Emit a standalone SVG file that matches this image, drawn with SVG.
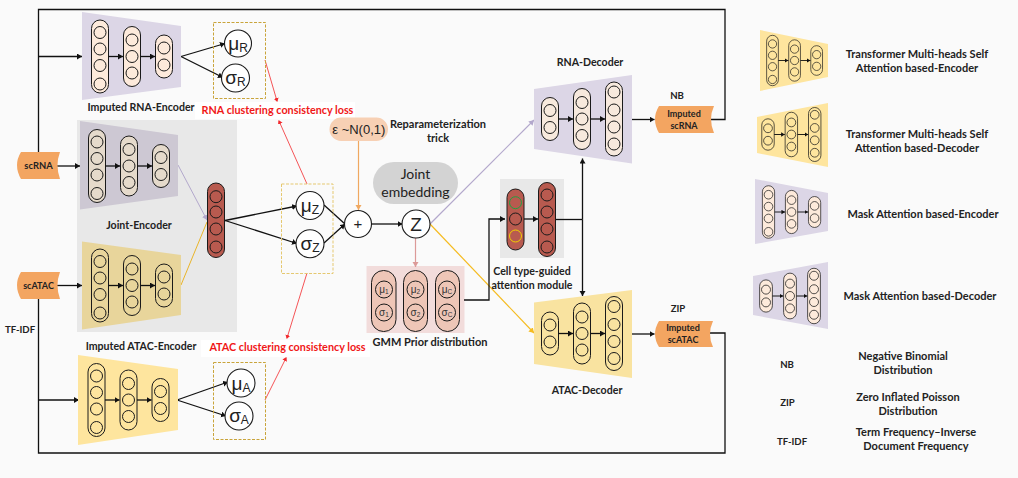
<svg xmlns="http://www.w3.org/2000/svg" xmlns:xlink="http://www.w3.org/1999/xlink" width="1018" height="478" viewBox="0 0 1018 478">
<style>
text{font-family:"Lato","Open Sans","Liberation Sans",sans-serif;font-weight:700;font-size:10.6px;fill:#222;text-anchor:middle}
.red{fill:#f01818;font-size:10.8px}
.lg{font-size:11px}
.cap{font-size:9.6px}
.sym{font-family:"Liberation Sans",sans-serif;font-weight:400;font-size:19px;fill:#222}
.sym tspan{font-size:12px}
.mini{font-family:"Liberation Sans",sans-serif;font-weight:400;font-size:10px;fill:#333}
.mini tspan{font-size:6.5px}
.pill{stroke:#1a1a1a;stroke-width:1}
.c{fill:none;stroke:#1a1a1a;stroke-width:1}
.node{fill:#fff;stroke:#1a1a1a;stroke-width:1.1}
.blk{fill:none;stroke:#111;stroke-width:1.3}
.inner{fill:none;stroke:#111;stroke-width:1.3}
.rl{fill:none;stroke:#f2282c;stroke-width:.8}
.dash{fill:none;stroke-width:1;stroke-dasharray:3 1.5}
</style>
<defs>
<marker id="a" markerUnits="userSpaceOnUse" markerWidth="7" markerHeight="7" refX="5" refY="3" orient="auto"><path d="M0 0L5 3L0 6Z" fill="#111"/></marker>
<marker id="ar" markerUnits="userSpaceOnUse" markerWidth="6" markerHeight="6" refX="3" refY="2.5" orient="auto"><path d="M0 0L4 2.5L0 5Z" fill="#f2282c"/></marker>
<marker id="al" markerUnits="userSpaceOnUse" markerWidth="7" markerHeight="7" refX="5" refY="3" orient="auto"><path d="M0 0L5 3L0 6Z" fill="#b3a8cc"/></marker>
<marker id="ay" markerUnits="userSpaceOnUse" markerWidth="7" markerHeight="7" refX="5" refY="3" orient="auto"><path d="M0 0L5 3L0 6Z" fill="#f5bb1f"/></marker>
<marker id="ao" markerUnits="userSpaceOnUse" markerWidth="7" markerHeight="7" refX="5" refY="3" orient="auto"><path d="M0 0L5 3L0 6Z" fill="#f0a860"/></marker>
<marker id="ap" markerUnits="userSpaceOnUse" markerWidth="7" markerHeight="7" refX="5" refY="3" orient="auto"><path d="M0 0L5 3L0 6Z" fill="#dc9a98"/></marker>
<g id="enc">
<rect class="pill" x="-8.5" y="-36.5" width="17" height="73" rx="8.5"/>
<rect class="pill" x="23.5" y="-30" width="17" height="60" rx="8.5"/>
<rect class="pill" x="55.5" y="-21.5" width="17" height="43" rx="8.5"/>
<circle class="c" cy="-24" r="6"/><circle class="c" cy="-7.5" r="6"/><circle class="c" cy="9" r="6"/><circle class="c" cy="27.5" r="6"/>
<circle class="c" cx="32" cy="-16.5" r="6"/><circle class="c" cx="32" r="6"/><circle class="c" cx="32" cy="16.5" r="6"/>
<circle class="c" cx="64" cy="-8.5" r="6"/><circle class="c" cx="64" cy="8.5" r="6"/>
<path class="inner" d="M8.5 0H23" marker-end="url(#a)"/><path class="inner" d="M40.5 0H55" marker-end="url(#a)"/>
</g>
<g id="dec">
<rect class="pill" x="-8.5" y="-21.5" width="17" height="43" rx="8.5"/>
<rect class="pill" x="23.5" y="-30.5" width="17" height="61" rx="8.5"/>
<rect class="pill" x="55.5" y="-37" width="17" height="74" rx="8.5"/>
<circle class="c" cy="-8.5" r="6"/><circle class="c" cy="8.5" r="6"/>
<circle class="c" cx="32" cy="-16.5" r="6"/><circle class="c" cx="32" r="6"/><circle class="c" cx="32" cy="16.5" r="6"/>
<circle class="c" cx="64" cy="-27" r="6"/><circle class="c" cx="64" cy="-9" r="6"/><circle class="c" cx="64" cy="8" r="6"/><circle class="c" cx="64" cy="25" r="6"/>
<path class="inner" d="M8.5 0H23" marker-end="url(#a)"/><path class="inner" d="M40.5 0H55" marker-end="url(#a)"/>
</g>
</defs>
<rect width="1018" height="478" fill="#fafafa"/>
<rect x="77" y="120" width="160" height="212" fill="#e8e8e8"/>
<rect x="500" y="179" width="64" height="79" fill="#e8e8e8"/>
<rect x="366.5" y="266" width="98" height="67" fill="#f2dcdb"/>

<g id="connectors">
<path class="blk" d="M38.5 152V9.5H725V119.5H711"/>
<path class="blk" d="M38.5 56.5H82" marker-end="url(#a)"/>
<path class="blk" d="M57 166H80" marker-end="url(#a)"/>
<path class="blk" d="M57 285.5H82" marker-end="url(#a)"/>
<path class="blk" d="M38.5 299V453H725V333H710"/>
<path class="blk" d="M38.5 400H79" marker-end="url(#a)"/>
<path class="blk" d="M181 56.5L225 43.5" marker-end="url(#a)"/>
<path class="blk" d="M181 56.5L223 77.5" marker-end="url(#a)"/>
<path class="blk" d="M177 400L228 382" marker-end="url(#a)"/>
<path class="blk" d="M177 400L226 416" marker-end="url(#a)"/>
<path fill="none" stroke="#b3a8cc" stroke-width="1" d="M178 165L207 220" marker-end="url(#al)"/>
<path fill="none" stroke="#e9b429" stroke-width="1" d="M181 285L207 222"/>
<path class="blk" d="M225 220.5L297 206" marker-end="url(#a)"/>
<path class="blk" d="M225 220.5L297 243.5" marker-end="url(#a)"/>
<path class="blk" d="M324 205L345 224"/><path class="blk" d="M324 243L345 224" marker-end="url(#a)"/>
<path class="blk" d="M372 224H402.5" marker-end="url(#a)"/>
<path fill="none" stroke="#f0a860" stroke-width="1.2" d="M358.5 141V210" marker-end="url(#ao)"/>
<path fill="none" stroke="#dc9a98" stroke-width="1.2" d="M415.5 238V267" marker-end="url(#ap)"/>
<path fill="none" stroke="#b3a8cc" stroke-width="1.2" d="M430 224L534 120" marker-end="url(#al)"/>
<path fill="none" stroke="#f5bb1f" stroke-width="1.2" d="M430 224L534 333" marker-end="url(#ay)"/>
<path class="blk" d="M464 300H489V219H505" marker-end="url(#a)"/>
<path class="blk" d="M555 219.5H582.5"/>
<path class="blk" d="M582.5 219.5V158.5" marker-end="url(#a)"/>
<path class="blk" d="M582.5 219.5V296" marker-end="url(#a)"/>
<path class="blk" d="M631 119.5H654.5" marker-end="url(#a)"/>
<path class="blk" d="M631 334H654.5" marker-end="url(#a)"/>
<path class="rl" d="M265 60L277 101" marker-end="url(#ar)"/>
<path class="rl" d="M307 184L279 121" marker-end="url(#ar)"/>
<path class="rl" d="M307 273L287 338" marker-end="url(#ar)"/>
<path class="rl" d="M265 400L286 358" marker-end="url(#ar)"/>
</g>

<g id="imputed-rna-encoder"><polygon points="82,12 181,26 181,87 82,100" fill="#dcd6e6"/><use href="#enc" x="100" y="56.5" fill="#fdeadb"/><text x="141" y="111">Imputed RNA-Encoder</text></g>
<g id="joint-rna-encoder"><polygon points="80,121 178,135 178,196 80,209.5" fill="#cdc8d3"/><use href="#enc" x="97" y="166" fill="#e5dacb"/><text x="139" y="229">Joint-Encoder</text></g>
<g id="joint-atac-encoder"><polygon points="82,241.5 181,255 181,315 82,329.5" fill="#e8d59b"/><use href="#enc" x="100" y="285.5" fill="#e8d59b"/></g>
<g id="imputed-atac-encoder"><polygon points="78,355 178,369 178,430 78,445" fill="#fee59e"/><use href="#enc" x="96.5" y="400" fill="#fee59e"/><text x="141" y="350">Imputed ATAC-Encoder</text></g>

<g id="scRNA"><path d="M21 152H60Q55 165 60 179H21Q13 165 21 152Z" fill="#f3a561"/><text x="38.5" y="169" style="font-size:9.4px">scRNA</text></g>
<g id="scATAC"><path d="M21 272H60Q55 285 60 299H21Q13 285 21 272Z" fill="#f3a561"/><text x="38.5" y="289" style="font-size:9px">scATAC</text></g>
<text x="20" y="332.5" class="cap" id="tfidf-label">TF-IDF</text>

<g id="joint-layer"><rect class="pill" x="207.5" y="183" width="17" height="74.5" rx="8.5" fill="#b85a4f"/><circle class="c" cx="216" cy="196.7" r="6"/><circle class="c" cx="216" cy="212" r="6"/><circle class="c" cx="216" cy="229" r="6"/><circle class="c" cx="216" cy="247" r="6"/></g>

<rect id="rna-box" class="dash" x="213.5" y="22.5" width="52" height="76" stroke="#c9a43a"/>
<g id="mu-r"><circle class="node" cx="238" cy="43.5" r="13.5"/><text class="sym" x="238" y="50">μ<tspan dy="2">R</tspan></text></g>
<g id="sigma-r"><circle class="node" cx="235.5" cy="78" r="14"/><text class="sym" x="235.5" y="84">σ<tspan dy="2">R</tspan></text></g>
<rect id="atac-box" class="dash" x="213.5" y="362.5" width="52" height="77" stroke="#c9a43a"/>
<g id="mu-a"><circle class="node" cx="241" cy="383" r="14"/><text class="sym" x="241" y="390">μ<tspan dy="2">A</tspan></text></g>
<g id="sigma-a"><circle class="node" cx="239" cy="416" r="14"/><text class="sym" x="239" y="422">σ<tspan dy="2">A</tspan></text></g>
<rect id="z-box" class="dash" x="281.5" y="184" width="51.5" height="89.5" stroke="#e5c870"/>
<g id="mu-z"><circle class="node" cx="310" cy="205.5" r="14"/><text class="sym" x="310" y="212">μ<tspan dy="2">Z</tspan></text></g>
<g id="sigma-z"><circle class="node" cx="310" cy="243.7" r="14"/><text class="sym" x="310" y="250">σ<tspan dy="2">Z</tspan></text></g>
<g id="plus"><circle class="node" cx="358" cy="224" r="13.5"/><text class="sym" x="358" y="229" style="font-size:15px">+</text></g>
<g id="z"><circle class="node" cx="416" cy="224" r="14"/><text class="sym" x="416" y="231">Z</text></g>

<g id="rna-loss"><rect x="195" y="102" width="160" height="17" fill="#fff"/><text class="red" x="277.5" y="114">RNA clustering consistency loss</text></g>
<g id="atac-loss"><rect x="201" y="340" width="169" height="17" fill="#fff"/><text class="red" x="287.5" y="351">ATAC clustering consistency loss</text></g>

<g id="epsilon"><rect x="329.5" y="117.5" width="58.5" height="23.5" rx="11.7" fill="#f7d0b4"/><text x="358.8" y="134" style="font-family:'Liberation Sans',sans-serif;font-weight:400;font-size:13px">ε ~N(0,1)</text></g>
<g id="reparam-label"><text class="lg" x="438" y="128">Reparameterization</text><text class="lg" x="438" y="142">trick</text></g>
<g id="joint-embedding"><rect x="373" y="162" width="85" height="42" rx="21" fill="#d3d3d3"/><text x="415.5" y="179" style="font-weight:400;font-size:14px">Joint</text><text x="415.5" y="197" style="font-weight:400;font-size:14px">embedding</text></g>

<g id="gmm">
<rect class="pill" x="371.5" y="270.5" width="24.5" height="61" rx="12" fill="#eec6b7"/>
<rect class="pill" x="403.5" y="270.5" width="24" height="61" rx="12" fill="#eec6b7"/>
<rect class="pill" x="435.5" y="270.5" width="24" height="61" rx="12" fill="#eec6b7"/>
<circle class="c" cx="384" cy="289.5" r="8.5"/><circle class="c" cx="384" cy="312.5" r="8.5"/>
<circle class="c" cx="415.5" cy="289.5" r="8.5"/><circle class="c" cx="415.5" cy="312.5" r="8.5"/>
<circle class="c" cx="447" cy="289.5" r="8.5"/><circle class="c" cx="447" cy="312.5" r="8.5"/>
<text class="mini" x="384" y="293">μ<tspan dy="1">1</tspan></text><text class="mini" x="384" y="316">σ<tspan dy="1">1</tspan></text>
<text class="mini" x="415.5" y="293">μ<tspan dy="1">2</tspan></text><text class="mini" x="415.5" y="316">σ<tspan dy="1">2</tspan></text>
<text class="mini" x="447" y="293">μ<tspan dy="1">C</tspan></text><text class="mini" x="447" y="316">σ<tspan dy="1">C</tspan></text>
<text class="lg" x="430" y="346">GMM Prior distribution</text>
</g>

<g id="cell-type-module">
<rect class="pill" x="507" y="189" width="17" height="61" rx="8.5" fill="#b85a4f"/>
<rect class="pill" x="538.5" y="182.5" width="17" height="74" rx="8.5" fill="#b85a4f"/>
<circle cx="515.5" cy="202.7" r="6" fill="none" stroke="#22a040"/><circle class="c" cx="515.5" cy="219" r="6"/><circle cx="515.5" cy="236" r="6" fill="none" stroke="#f0d000"/>
<circle class="c" cx="547" cy="195" r="6"/><circle class="c" cx="547" cy="212" r="6"/><circle class="c" cx="547" cy="229" r="6"/><circle class="c" cx="547" cy="247" r="6"/>
<path class="inner" d="M524 219H538" marker-end="url(#a)"/>
<text x="532" y="275">Cell type-guided</text><text x="532" y="289">attention module</text>
</g>

<g id="rna-decoder"><polygon points="534,89 632,75 632,163.5 534,149" fill="#dcd6e6"/><use href="#dec" x="550" y="119" fill="#f7e9dd"/><text x="590" y="66">RNA-Decoder</text></g>
<g id="atac-decoder"><polygon points="534,302.5 632,290 632,378 534,364" fill="#f9e3a0"/><use href="#dec" x="550" y="333.5" fill="#f9e3a0"/><text x="587" y="394">ATAC-Decoder</text></g>

<g id="imputed-scrna"><path d="M659 106H714Q708 119 714 133H659Q651 119 659 106Z" fill="#f3a561"/><text x="684" y="117" style="font-size:9px">Imputed</text><text x="684" y="129" style="font-size:9px">scRNA</text><text class="cap" x="677" y="99">NB</text></g>
<g id="imputed-scatac"><path d="M659 321H713Q707 334 713 347H659Q651 334 659 321Z" fill="#f3a561"/><text x="683" y="331" style="font-size:9px">Imputed</text><text x="683" y="343" style="font-size:9px">scATAC</text><text class="cap" x="678" y="312">ZIP</text></g>

<g id="legend-transformer-encoder"><polygon points="760,30 828,44 828,77 760,91" fill="#fee59e"/><use href="#enc" transform="translate(772.5 60.5) scale(.69)" fill="#fee59e"/><text class="lg" x="917" y="58">Transformer Multi-heads Self</text><text class="lg" x="917" y="72">Attention based-Encoder</text></g>
<g id="legend-transformer-decoder"><polygon points="757,117 828,103 828,167 757,153" fill="#fee59e"/><use href="#dec" transform="translate(768 134.5) scale(.73)" fill="#fee59e"/><text class="lg" x="917" y="138">Transformer Multi-heads Self</text><text class="lg" x="917" y="152">Attention based-Decoder</text></g>
<g id="legend-mask-encoder"><polygon points="755,179 828,193 828,231 755,244" fill="#dcd6e6"/><use href="#enc" transform="translate(768.5 212) scale(.72)" fill="#fdeadb"/><text class="lg" x="923" y="218">Mask Attention based-Encoder</text></g>
<g id="legend-mask-decoder"><polygon points="753,276 828,262 828,329 753,315" fill="#dcd6e6"/><use href="#dec" transform="translate(766 296) scale(.75)" fill="#fdeadb"/><text class="lg" x="920" y="300">Mask Attention based-Decoder</text></g>
<g id="legend-nb"><text class="cap" x="787" y="368">NB</text><text class="lg" x="903" y="360">Negative Binomial</text><text class="lg" x="903" y="374">Distribution</text></g>
<g id="legend-zip"><text class="cap" x="787.500" y="406">ZIP</text><text class="lg" x="908" y="400.500">Zero Inflated Poisson</text><text class="lg" x="908" y="414.500">Distribution</text></g>
<g id="legend-tfidf"><text class="cap" x="792" y="444.500">TF-IDF</text><text class="lg" x="916" y="436">Term Frequency–Inverse</text><text class="lg" x="916" y="450">Document Frequency</text></g>
</svg>
